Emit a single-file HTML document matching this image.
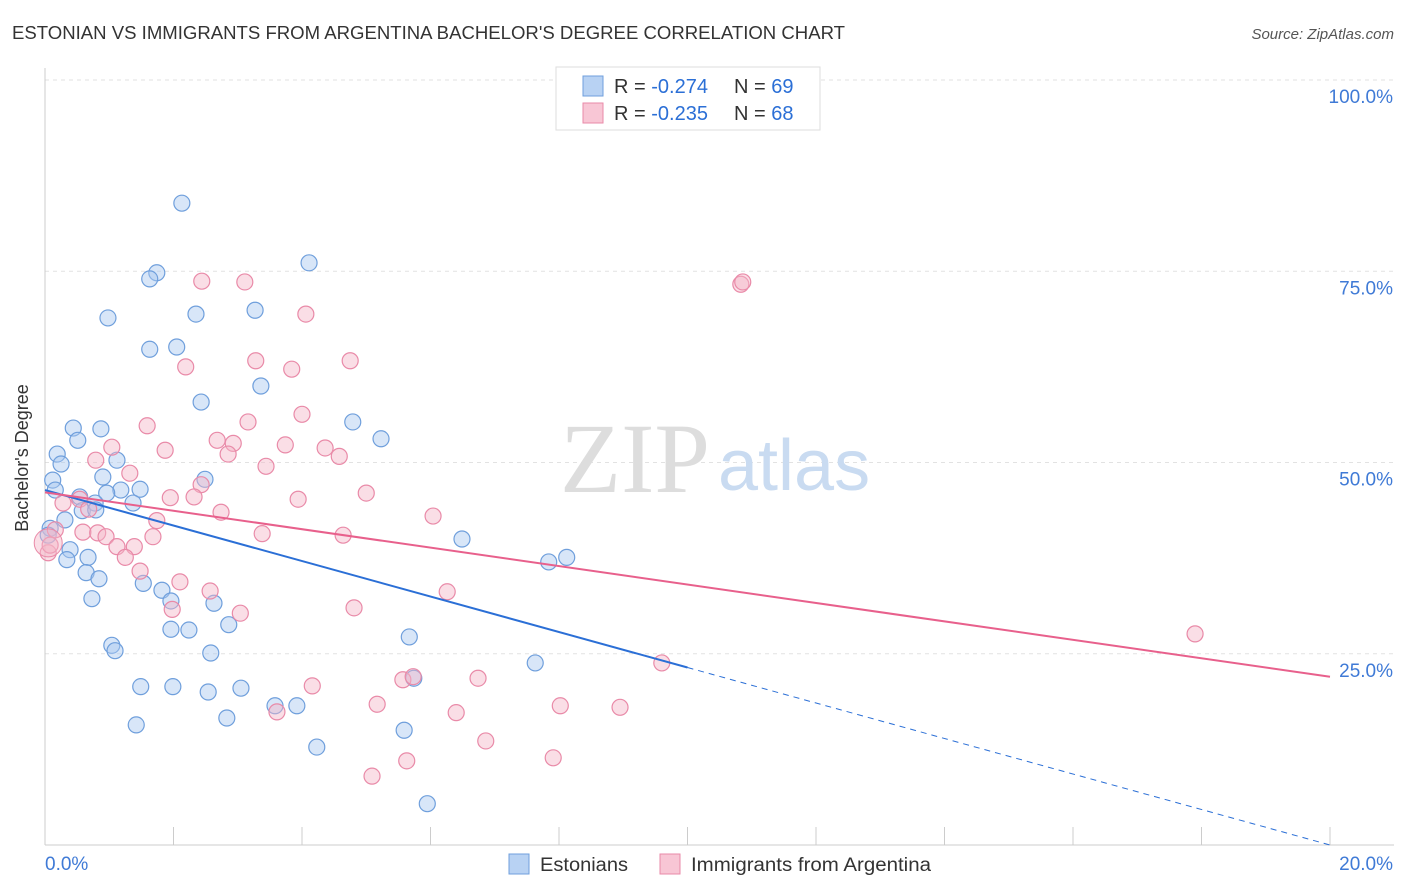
<!DOCTYPE html>
<html><head><meta charset="utf-8"><style>
body{margin:0;background:#fff;font-family:"Liberation Sans",sans-serif;}
svg{display:block}
</style></head><body>
<svg width="1406" height="892" xmlns="http://www.w3.org/2000/svg">
<text x="12" y="39" font-size="18" fill="#333" textLength="833" lengthAdjust="spacingAndGlyphs">ESTONIAN VS IMMIGRANTS FROM ARGENTINA BACHELOR'S DEGREE CORRELATION CHART</text>
<text x="1394" y="39" font-size="15" fill="#555" font-style="italic" text-anchor="end">Source: ZipAtlas.com</text>
<g id="grid"></g>
<text x="560" y="492" font-size="100" fill="#ddd" font-family="Liberation Serif,serif">ZIP</text>
<text x="718" y="490" font-size="72" fill="#c9dbf1">atlas</text>
<g id="axes"></g>
<g id="marks"></g>
<text x="28" y="458" font-size="18" fill="#333" transform="rotate(-90 28 458)" text-anchor="middle">Bachelor's Degree</text>
<g>
<rect x="556" y="67" width="264" height="63" fill="#fff" stroke="#ddd"/>
<rect x="583" y="76" width="20" height="20" fill="#b8d2f3" stroke="#6f9fdc"/>
<rect x="583" y="103" width="20" height="20" fill="#f8c6d5" stroke="#e98aa8"/>
<text x="614" y="93" font-size="20" fill="#333">R = <tspan fill="#2b6fd6">-0.274</tspan><tspan x="734">N = </tspan><tspan fill="#2b6fd6">69</tspan></text>
<text x="614" y="120" font-size="20" fill="#333">R = <tspan fill="#2b6fd6">-0.235</tspan><tspan x="734">N = </tspan><tspan fill="#2b6fd6">68</tspan></text>
</g>
<g>
<rect x="509" y="854" width="20" height="20" fill="#b8d2f3" stroke="#6f9fdc"/>
<text x="540" y="871" font-size="19" fill="#333" textLength="88" lengthAdjust="spacingAndGlyphs">Estonians</text>
<rect x="660" y="854" width="20" height="20" fill="#f8c6d5" stroke="#e98aa8"/>
<text x="691" y="871" font-size="19" fill="#333" textLength="240" lengthAdjust="spacingAndGlyphs">Immigrants from Argentina</text>
</g>
</svg>
<script>
const blueX=[2.13,4.11,1.74,1.63,0.98,2.35,3.27,1.63,2.05,3.36,2.43,4.79,5.23,0.44,0.87,0.51,0.19,0.25,1.12,2.49,0.90,0.12,0.16,1.18,1.48,0.54,0.96,1.37,0.78,0.58,0.79,0.31,6.49,0.39,0.34,0.67,7.84,8.12,0.64,0.84,1.53,1.82,1.96,2.63,0.73,2.86,1.96,2.24,5.67,1.04,1.09,2.58,7.63,5.74,1.49,1.99,2.54,3.05,3.58,3.92,2.83,1.42,5.59,4.23,5.95,0.08,0.05];
const blueY=[83.9,76.1,74.8,74.0,68.9,69.4,69.9,64.8,65.1,60.0,57.9,55.3,53.1,54.5,54.4,52.9,51.1,49.8,50.3,47.8,48.1,47.7,46.4,46.4,46.5,45.5,46.0,44.7,44.7,43.7,43.8,42.5,40.0,38.6,37.3,37.6,37.0,37.6,35.6,34.8,34.2,33.3,31.9,31.6,32.2,28.8,28.2,28.1,27.2,26.1,25.4,25.1,23.8,21.8,20.7,20.7,20.0,20.5,18.2,18.2,16.6,15.7,15.0,12.8,5.4,41.4,40.5];
const pinkX=[2.44,3.11,10.83,10.86,4.06,3.28,4.75,2.19,3.84,4.00,3.16,1.59,2.68,2.93,1.04,1.87,3.74,4.36,2.85,4.58,0.79,3.44,1.32,2.43,5.00,1.95,2.32,3.94,0.54,0.28,0.68,2.74,6.04,1.74,0.59,0.82,1.68,0.95,3.38,4.64,1.12,1.39,1.25,1.48,2.10,2.57,6.26,1.98,3.04,4.81,17.90,9.60,4.16,5.57,6.74,5.73,5.17,8.02,8.95,3.61,6.40,6.86,7.91,5.63,5.09,0.05,0.08,0.16];
const pinkY=[73.7,73.6,73.3,73.6,69.4,63.3,63.3,62.5,62.2,56.3,55.3,54.8,52.9,52.5,52.0,51.6,52.3,51.9,51.1,50.8,50.3,49.5,48.6,47.1,46.0,45.4,45.5,45.2,45.2,44.7,43.9,43.5,43.0,42.4,40.9,40.8,40.3,40.3,40.7,40.5,39.0,39.0,37.6,35.8,34.4,33.2,33.1,30.8,30.3,31.0,27.6,23.8,20.8,21.6,21.8,22.0,18.4,18.2,18.0,17.4,17.3,13.6,11.4,11.0,9.0,38.2,39.2,41.2];
const yTicks=[25,50,75,100];
const yTickLabels=["25.0%","50.0%","75.0%","100.0%"];
const xTicks=[0,2,4,6,8,10,12,14,16,18,20];
const blueLine=[46.4,0];
const pinkLine=[46.1,22.0];
const blueSolidEnd=10;
const NS="http://www.w3.org/2000/svg";
const sx=v=>45+v*64.25, sy=v=>845-v*7.65;
function mk(t,a,p){const e=document.createElementNS(NS,t);for(const k in a)e.setAttribute(k,a[k]);p.appendChild(e);return e;}
const grid=document.getElementById('grid'),axes=document.getElementById('axes'),marks=document.getElementById('marks');
yTicks.forEach((v,i)=>{
 const l=mk('line',{x1:45,x2:1394,y1:sy(v),y2:sy(v),stroke:'#e2e2e2','stroke-dasharray':'4 4'},grid);
 
 
 const t=mk('text',{x:1393,y:sy(v)+23,'font-size':19,fill:'#3f7ad6','text-anchor':'end'},axes);
 t.textContent=yTickLabels[i];
 
 
});
let a=mk('line',{x1:45,x2:45,y1:68,y2:845,stroke:'#ccc'},axes);


a=mk('line',{x1:45,x2:1394,y1:845,y2:845,stroke:'#ccc'},axes);


xTicks.forEach(v=>{
 const l=mk('line',{x1:sx(v),x2:sx(v),y1:827,y2:845,stroke:'#ccc'},axes);
 
 
});
let t=mk('text',{x:45,y:870,'font-size':19,fill:'#3f7ad6'},axes);t.textContent='0.0%';


t=mk('text',{x:1393,y:870,'font-size':19,fill:'#3f7ad6','text-anchor':'end'},axes);t.textContent='20.0%';


function dots(X,Y,fill,stroke,name){X.forEach((x,i)=>{
 const c=mk('circle',{cx:sx(x),cy:sy(Y[i]),r:8,fill:fill,'fill-opacity':0.45,stroke:stroke,'stroke-width':1.2},marks);
 
 
});}
dots(blueX,blueY,'#a9c8f0','#6f9fdc','estonian-point');
dots(pinkX,pinkY,'#f4b6c8','#e98aa8','argentina-point');
const big=mk('circle',{cx:sx(0.05),cy:sy(39.5),r:14,fill:'#f4b6c8','fill-opacity':0.45,stroke:'#e98aa8'},marks);


const by=x=>blueLine[0]+(blueLine[1]-blueLine[0])*x/20;
let l=mk('line',{x1:sx(0),y1:sy(by(0)),x2:sx(blueSolidEnd),y2:sy(by(blueSolidEnd)),stroke:'#2b6fd6','stroke-width':2},marks);


l=mk('line',{x1:sx(blueSolidEnd),y1:sy(by(blueSolidEnd)),x2:sx(20),y2:sy(by(20)),stroke:'#2b6fd6','stroke-width':1,'stroke-dasharray':'6 5'},marks);


l=mk('line',{x1:sx(0),y1:sy(pinkLine[0]),x2:sx(20),y2:sy(pinkLine[1]),stroke:'#e8608c','stroke-width':2},marks);


</script>
</body></html>
